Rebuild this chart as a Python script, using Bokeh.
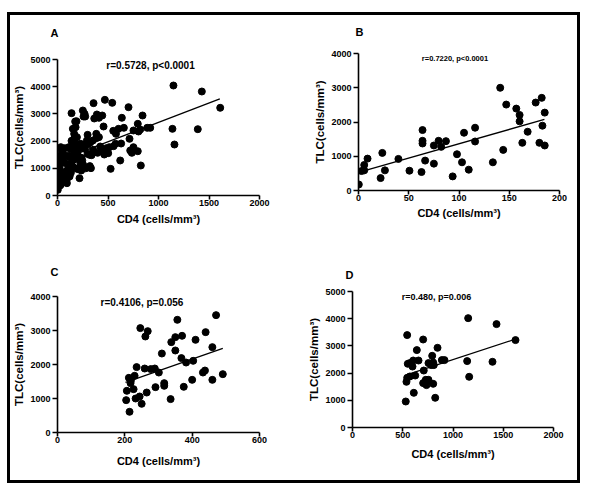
from bokeh.plotting import figure
from bokeh.layouts import column, row
from bokeh.models import Label, FixedTicker, Range1d, Spacer, Title
from bokeh.embed import file_html
from bokeh.resources import INLINE

# ---------------- Panel A ----------------
a_cd4 = [1148, 1429, 1611, 1138, 1389, 1158, 703, 842, 637, 795, 888, 918, 657, 604, 752, 802, 819,
         713, 630, 752, 720, 736, 795, 825, 621, 526, 555, 575, 513, 483, 463, 502, 579, 552, 469,
         542, 456, 443, 390, 364, 384, 410, 384, 350, 357, 410, 423, 397, 298, 324, 268, 298, 317,
         331, 281, 291, 298, 337, 251, 258, 268, 139, 179, 152, 175, 165, 192, 139, 225, 241, 192,
         198, 208, 238, 245, 218, 202, 152, 228, 112, 86, 60, 73, 112, 33, 40, 20, 26, 20, 13, 7,
         3, 3, 26, 46, 69, 93, 112, 60, 93, 66, 106, 132, 145, 126, 126, 165, 212, 172, 188, 168,
         274, 149, 228, 353, 445, 142, 188, 254, 280, 235, 320, 37, 50, 120, 30, 90, 55, 80, 170]
a_tlc = [4044, 3823, 3224, 2451, 2438, 1875, 3247, 2941, 2857, 2635, 2488, 2488, 2488, 2451, 2390,
         2353, 2426, 2084, 1911, 1776, 1654, 1569, 1628, 1103, 1287, 980, 1814, 1900, 1777, 1740,
         1507, 1556, 2267, 2377, 3517, 3407, 2537, 2941, 2978, 2831, 2267, 2145, 2108, 2022, 3395,
         2855, 1801, 1569, 2230, 1949, 1716, 1532, 1495, 1005, 1900, 2022, 1875, 1483, 3125, 2904,
         3002, 3027, 2512, 2451, 2720, 2267, 2145, 2010, 1875, 1752, 1716, 1593, 1434, 1385, 1287,
         637, 968, 1066, 1152, 1458, 1446, 1495, 1740, 1777, 1777, 1593, 1409, 1225, 1042, 833, 674,
         490, 208, 368, 551, 735, 919, 1103, 674, 453, 858, 797, 833, 1287, 1409, 1716, 1593, 1777,
         1900, 2731, 2120, 2904, 1900, 1900, 1680, 1700, 1400, 1330, 1130, 1000, 920, 1080, 800, 600,
         700, 400, 560, 1250, 1190, 1000]
a_fit_x = [0, 1607]
a_fit_y = [1262, 3554]

# ---------------- Panel B ----------------
b_cd4 = [0.3, 3, 5.7, 5.7, 9, 23.7, 22, 26.3, 39.7, 50.7, 62.7, 63.7, 63.7, 63.7, 66.3, 75, 75, 79.7,
         82.3, 87, 93.7, 98, 103, 105, 109.7, 116, 116, 133.7, 144, 141, 147, 157, 160.3, 160.3,
         168.3, 163, 176.3, 182.3, 185.3, 183, 180, 185.3]
b_tlc = [176, 568, 588, 745, 931, 1098, 363, 588, 922, 578, 539, 1765, 1451, 1373, 873, 1314, 784,
         1451, 1274, 1441, 412, 1059, 823, 1686, 608, 1833, 1431, 823, 1186, 2999, 2509, 2391, 2205,
         2019, 1715, 1392, 2568, 2705, 2274, 1892, 1392, 1314]
b_fit_x = [0, 185]
b_fit_y = [530, 2075]

# ---------------- Panel C ----------------
c_cd4 = [356, 471, 246, 268, 261, 338, 350, 370, 410, 440, 350, 310, 460, 368, 403, 382, 235, 259,
         277, 289, 301, 212, 229, 217, 206, 226, 232, 244, 204, 250, 214, 265, 317, 317, 291, 336,
         375, 400, 432, 438, 460, 491, 218]
c_tlc = [3314, 3452, 3070, 2981, 2824, 2658, 2805, 2844, 2726, 2952, 2412, 2323, 2511, 2188, 2108,
         2058, 1923, 1882, 1864, 1882, 1764, 1608, 1667, 1452, 1226, 1275, 1000, 1059, 952, 844, 609,
         1176, 1452, 1373, 1334, 982, 1344, 1549, 1764, 1823, 1549, 1716, 1530]
c_fit_x = [202, 491]
c_fit_y = [1475, 2475]

# ---------------- Panel D ----------------
d_cd4 = [1151, 1433, 1622, 1141, 1393, 1161, 544, 703, 640, 846, 793, 889, 915, 803, 756, 570, 604,
         657, 597, 550, 783, 809, 709, 624, 544, 537, 570, 729, 756, 703, 736, 803, 610, 823, 530]
d_tlc = [4021, 3801, 3213, 2441, 2415, 1864, 3397, 3235, 2845, 2930, 2636, 2478, 2478, 2390, 2367,
         2367, 2463, 2463, 2242, 2341, 2294, 2294, 2095, 1911, 1827, 1680, 1875, 1753, 1753, 1632,
         1558, 1606, 1275, 1092, 956]
d_fit_x = [537, 1622]
d_fit_y = [1937, 3250]

FONT = "Liberation Sans"
X_LABEL = "CD4 (cells/mm\u00b3)"
Y_LABEL = "TLC(cells/mm\u00b3)"


def panel(xs, ys, fx, fy, xmax, ymax, xstep, ystep, width, height, borders, xlab_standoff,
          letter, letter_offset, letter_gap, note, note_x, note_size):
    bl, br, bt, bb = borders
    p = figure(width=width, height=height, x_range=Range1d(0, xmax), y_range=Range1d(0, ymax),
               output_backend="svg", toolbar_location=None,
               min_border_left=bl, min_border_right=br, min_border_top=bt, min_border_bottom=bb)
    p.outline_line_color = None
    p.xgrid.visible = False
    p.ygrid.visible = False
    p.background_fill_color = "white"
    p.border_fill_color = "white"
    p.xaxis.ticker = FixedTicker(ticks=list(range(0, xmax + 1, xstep)))
    p.yaxis.ticker = FixedTicker(ticks=list(range(0, ymax + 1, ystep)))
    for ax in (p.xaxis, p.yaxis):
        ax.axis_line_width = 1.6
        ax.axis_line_color = "black"
        ax.major_tick_line_width = 1.6
        ax.major_tick_line_color = "black"
        ax.major_tick_in = 0
        ax.minor_tick_line_color = None
        ax.major_label_text_font = FONT
        ax.major_label_text_font_style = "bold"
        ax.major_label_text_font_size = "9px"
        ax.major_label_text_color = "black"
        ax.axis_label_text_font = FONT
        ax.axis_label_text_font_style = "bold"
        ax.axis_label_text_color = "black"
    p.xaxis.major_tick_out = 4
    p.xaxis.major_label_standoff = 0
    p.yaxis.major_tick_out = 5
    p.yaxis.major_label_standoff = 2
    p.xaxis.axis_label = X_LABEL
    p.xaxis.axis_label_text_font_size = "11px"
    p.xaxis.axis_label_standoff = xlab_standoff
    p.yaxis.axis_label = Y_LABEL
    p.yaxis.axis_label_text_font_size = "11.5px"
    p.yaxis.axis_label_standoff = 2

    # panel letter as the (outer) title; a white, tiny title below it keeps it off the frame
    p.title.text = letter
    p.title.align = "left"
    p.title.offset = letter_offset
    p.title.standoff = 2
    p.title.text_font = FONT
    p.title.text_font_style = "bold"
    p.title.text_font_size = "11px"
    p.title.text_color = "black"
    p.add_layout(Title(text=".", text_font_size="1px", text_color="white", standoff=letter_gap),
                 "above")

    p.scatter(xs, ys, size=7, color="black", marker="circle")
    p.line(fx, fy, line_color="black", line_width=1.3)

    p.add_layout(Label(x=note_x, y=ymax, text=note, text_font=FONT,
                       text_font_style="bold", text_font_size=note_size, text_align="center",
                       text_baseline="top", text_color="black"))
    return p


def bar(w, h):
    return Spacer(width=w, height=h, styles={"background-color": "black"})


pa = panel(a_cd4, a_tlc, a_fit_x, a_fit_y, 2000, 5000, 500, 1000, 284, 233, (47, 35, 44, 53), 4,
           "A", -7, 17, "r=0.5728, p<0.0001", 921, "10px")
pb = panel(b_cd4, b_tlc, b_fit_x, b_fit_y, 200, 4000, 50, 1000, 283, 233, (64, 18, 38, 58), 3,
           "B", -3, 12, "r=0.7220, p<0.0001", 96, "7.5px")
pc = panel(c_cd4, c_tlc, c_fit_x, c_fit_y, 600, 4000, 200, 1000, 284, 232, (47, 35, 48, 48), 9,
           "C", -7, 15, "r=0.4106, p=0.056", 251, "10px")
pd = panel(d_cd4, d_tlc, d_fit_x, d_fit_y, 2000, 5000, 500, 1000, 283, 232, (58, 24, 43, 53), 7,
           "D", -7, 7, "r=0.480, p=0.006", 836, "9px")

# wrap each figure separately so rows do not force their frames to line up
grid = column(row(column(pa), column(pb)), row(column(pc), column(pd)))
boxed = column(bar(573, 3),
               row(bar(3, 465), grid, bar(3, 465)),
               bar(573, 3))
layout = column(Spacer(width=580, height=12),
                row(Spacer(width=7, height=471), boxed))

open("out.html", "w").write(file_html(layout, INLINE))
